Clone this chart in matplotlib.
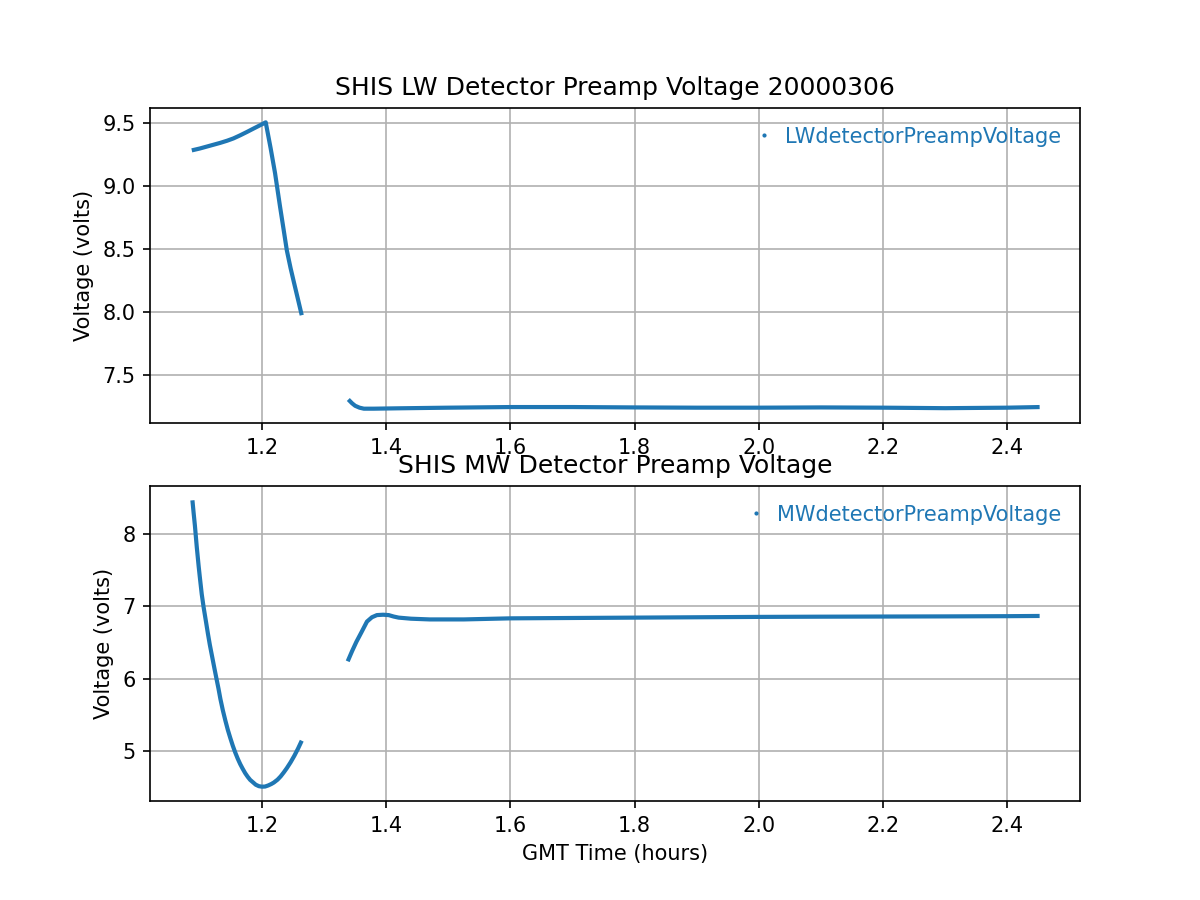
#!/usr/bin/env python3
import numpy as np
import matplotlib
matplotlib.use("Agg")
import matplotlib.pyplot as plt
from matplotlib.lines import Line2D

# values (GMT hours, volts); NaN marks the data gap
lw_time = [1.087, 1.100, 1.111, 1.122, 1.133, 1.144, 1.154, 1.165, 1.176, 1.187, 1.197, 1.206,
           1.214, 1.221, 1.229, 1.235, 1.240, 1.246, 1.251, 1.258, 1.264,
           np.nan,
           1.339, 1.345, 1.350, 1.357, 1.364, 1.380, 1.420, 1.500, 1.600, 1.700, 1.800,
           1.900, 2.000, 2.100, 2.200, 2.300, 2.400, 2.452]
lw_volts = [9.285, 9.300, 9.315, 9.330, 9.345, 9.362, 9.380, 9.405, 9.432, 9.460, 9.485, 9.508,
            9.300, 9.105, 8.840, 8.650, 8.490, 8.350, 8.245, 8.100, 7.975,
            np.nan,
            7.305, 7.275, 7.255, 7.240, 7.232, 7.232, 7.235, 7.240, 7.245, 7.245, 7.242,
            7.240, 7.240, 7.242, 7.240, 7.236, 7.240, 7.245]

mw_time = [1.088, 1.090, 1.092, 1.095, 1.098, 1.100, 1.103, 1.106, 1.110, 1.113, 1.116, 1.120,
           1.123, 1.126, 1.130, 1.133, 1.137, 1.141, 1.145, 1.149, 1.153, 1.157, 1.161,
           1.165, 1.169, 1.173, 1.177, 1.181, 1.186, 1.190, 1.195, 1.200, 1.205, 1.210,
           1.215, 1.219, 1.225, 1.230, 1.235, 1.240, 1.246, 1.252, 1.258, 1.264,
           np.nan,
           1.338, 1.345, 1.352, 1.360, 1.369, 1.377, 1.385, 1.395, 1.404, 1.412, 1.420,
           1.440, 1.470, 1.525, 1.600, 1.700, 1.800, 1.900, 2.000, 2.100, 2.200, 2.300,
           2.400, 2.452]
mw_volts = [8.470, 8.290, 8.120, 7.823, 7.560, 7.400, 7.170, 6.990, 6.780, 6.620, 6.470, 6.293,
            6.160, 6.030, 5.860, 5.720, 5.560, 5.420, 5.290, 5.177, 5.070, 4.975,
            4.890, 4.815, 4.750, 4.690, 4.640, 4.597, 4.560, 4.530, 4.510, 4.503, 4.505,
            4.520, 4.540, 4.560, 4.600, 4.645, 4.700, 4.760, 4.840, 4.930, 5.030, 5.140,
            np.nan,
            6.240, 6.380, 6.510, 6.640, 6.790, 6.850, 6.880, 6.885, 6.880, 6.860, 6.845,
            6.830, 6.820, 6.820, 6.835, 6.840, 6.845, 6.850, 6.855, 6.858, 6.860, 6.862,
            6.865, 6.868]

color = "#1f77b4"

fig, (ax1, ax2) = plt.subplots(2, 1, figsize=(8, 6), dpi=150)

for ax, t, v, title, label in [
    (ax1, lw_time, lw_volts, "SHIS LW Detector Preamp Voltage 20000306", "LWdetectorPreampVoltage"),
    (ax2, mw_time, mw_volts, "SHIS MW Detector Preamp Voltage", "MWdetectorPreampVoltage"),
]:
    ax.plot(t, v, color=color, lw=2.0, solid_capstyle="butt")
    ax.set_title(title)
    ax.set_ylabel("Voltage (volts)")
    ax.grid(True, color="#b0b0b0", lw=0.8)
    handle = Line2D([], [], ls="none", marker=".", markersize=2, color=color)
    ax.legend([handle], [label], loc="upper right", frameon=False, labelcolor=color,
              handlelength=1.0, handletextpad=0.5)

ax1.set_xlim(1.0197, 2.517)
ax2.set_xlim(1.0197, 2.517)
ax1.set_yticks([7.5, 8.0, 8.5, 9.0, 9.5])
ax2.set_xlabel("GMT Time (hours)")

fig.savefig("out.png", dpi=150)
